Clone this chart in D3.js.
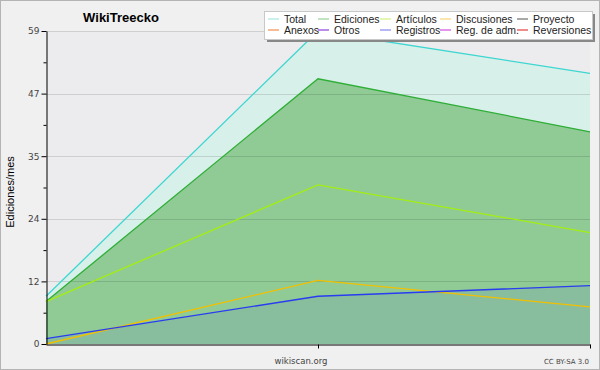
<!DOCTYPE html>
<html>
<head>
<meta charset="utf-8">
<style>
  html, body { margin: 0; padding: 0; background: #f0f0f0; }
  svg { display: block; font-family: "DejaVu Sans", sans-serif; }
</style>
</head>
<body>
<div id="chart"></div>
<script src="https://cdn.jsdelivr.net/npm/d3@7"></script>
<script>
var width = 600, height = 370;

// data
var periods = ["p1", "p2", "p3"];
var total = [9, 59, 51];
var ediciones = [8, 50, 40];
var articulos = [8, 30, 21];
var discusiones = [0, 12, 7];
var registros = [1, 9, 11];
var yMax = 59;

var legendRow1 = ["Total", "Ediciones", "Artículos", "Discusiones", "Proyecto"];
var legendRow2 = ["Anexos", "Otros", "Registros", "Reg. de adm.", "Reversiones"];
var legendCol1 = ["#a8e8e2", "#98d498", "#d4f084", "#f8d878", "#707070"];
var legendCol2 = ["#f09050", "#9040e0", "#8888f0", "#d050e0", "#e84040"];

var svg = d3.select("#chart").append("svg")
  .attr("width", width).attr("height", height);

svg.append("rect")
  .attr("x", 0.5).attr("y", 0.5)
  .attr("width", width - 1).attr("height", height - 1)
  .attr("fill", "#f0f0f0").attr("stroke", "#b4b4b4");

var x = d3.scalePoint().domain(periods).range([46, 590]);
var y = d3.scaleLinear().domain([0, yMax]).range([344, 31]);

// plot background
svg.append("rect")
  .attr("x", x.range()[0]).attr("y", y(yMax))
  .attr("width", x.range()[1] - x.range()[0])
  .attr("height", y(0) - y(yMax))
  .attr("fill", "#ececee");

function area(vals) {
  return d3.area()
    .x((d, i) => x(periods[i]))
    .y0(y(0))
    .y1(d => y(d))(vals);
}
function line(vals) {
  return d3.line()
    .x((d, i) => x(periods[i]))
    .y(d => y(d))(vals);
}

svg.append("path").attr("d", area(total)).attr("fill", "#d8f0ea");
svg.append("path").attr("d", area(ediciones)).attr("fill", "#90cb96");
svg.append("path").attr("d", area(registros)).attr("fill", "#3c3cf0").attr("fill-opacity", 0.09);

var majors = d3.range(0, 6).map(i => yMax * i / 5);
var minors = d3.range(0, 5).map(i => yMax * (i + 0.5) / 5);

// grid
svg.append("g")
  .selectAll("line")
  .data(majors.slice(1))
  .join("line")
    .attr("x1", x.range()[0]).attr("x2", x.range()[1])
    .attr("y1", d => Math.round(y(d)) + 0.5)
    .attr("y2", d => Math.round(y(d)) + 0.5)
    .attr("stroke", "#000").attr("stroke-opacity", 0.12);

var series = [
  {vals: total, color: "#3ed6d0"},
  {vals: ediciones, color: "#2eae36"},
  {vals: articulos, color: "#a4ee10"},
  {vals: discusiones, color: "#f2c000"},
  {vals: registros, color: "#2a3cf0"}
];
svg.append("g").attr("fill", "none")
  .selectAll("path")
  .data(series)
  .join("path")
    .attr("d", d => line(d.vals))
    .attr("stroke", d => d.color)
    .attr("stroke-width", 1.3);

// y axis
var yAxis = svg.append("g").attr("transform", "translate(46.5,0)")
  .call(d3.axisLeft(y).tickValues(majors).tickFormat(d => Math.round(d)).tickSize(5).tickSizeOuter(0));
yAxis.select(".domain").attr("stroke", "#000");
yAxis.selectAll("text").attr("font-size", 9).attr("fill", "#444").attr("font-family", "DejaVu Sans").attr("dx", 1);
svg.append("g").attr("transform", "translate(46.5,0)")
  .call(d3.axisLeft(y).tickValues(minors).tickFormat("").tickSize(3).tickSizeOuter(0))
  .select(".domain").remove();

// x axis
var xAxis = svg.append("g").attr("transform", "translate(0,344.5)")
  .call(d3.axisBottom(x).tickValues(periods.slice(1)).tickFormat("").tickSize(4).tickSizeOuter(0));
xAxis.select(".domain").attr("stroke", "#000");

// texts
svg.append("text").attr("x", 121).attr("y", 22)
  .attr("text-anchor", "middle").attr("font-size", 13).attr("font-weight", "bold")
  .attr("font-family", "Liberation Sans")
  .text("WikiTreecko");
svg.append("text")
  .attr("transform", "translate(14,192) rotate(-90)")
  .attr("text-anchor", "middle").attr("font-size", 11).attr("font-family", "Liberation Sans")
  .text("Ediciones/mes");
svg.append("text").attr("x", 301).attr("y", 364)
  .attr("text-anchor", "middle").attr("font-size", 8.5).attr("fill", "#444")
  .text("wikiscan.org");
svg.append("text").attr("x", 589).attr("y", 364)
  .attr("text-anchor", "end").attr("font-size", 7).attr("fill", "#444")
  .text("CC BY-SA 3.0");

// legend
var lg = svg.append("g");
lg.append("rect").attr("x", 267).attr("y", 14).attr("width", 328).attr("height", 28).attr("fill", "#888");
lg.append("rect").attr("x", 264.5).attr("y", 11.5).attr("width", 328).attr("height", 28)
  .attr("fill", "#fff").attr("stroke", "#c8c8c8");
var colX = [268, 318, 380, 440, 517];
var rows = [[legendRow1, legendCol1, 19], [legendRow2, legendCol2, 30]];
rows.forEach(function(r) {
  var item = lg.append("g").selectAll("g")
    .data(r[0])
    .join("g")
      .attr("transform", (d, i) => "translate(" + colX[i] + "," + r[2] + ")");
  item.append("line").attr("x1", 0).attr("x2", 11)
    .attr("stroke", (d, i) => r[1][i]).attr("stroke-width", 1.2);
  item.append("text").attr("x", 16).attr("dy", "0.35em")
    .attr("font-size", 10.5).attr("fill", "#222").attr("font-family", "Liberation Sans")
    .text(d => d);
});
</script>
</body>
</html>
